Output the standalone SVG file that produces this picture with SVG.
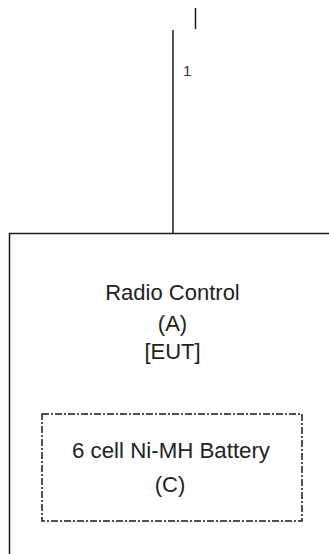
<svg xmlns="http://www.w3.org/2000/svg" width="329" height="554" viewBox="0 0 329 554">
<style>
.ln{stroke:#1a1a1a;stroke-width:1.5;fill:none}
.t{font-family:"Liberation Sans",Arial,sans-serif;font-size:22px;fill:#222;text-anchor:middle}
.dash{stroke:#1a1a1a;stroke-width:1.5;fill:none;stroke-dasharray:7 2 2 2}
</style>
<rect width="329" height="554" fill="#fff"/>
<g id="connectors">
<line class="ln" x1="195.5" y1="8" x2="195.5" y2="29"/>
<line class="ln" x1="173" y1="30" x2="173" y2="233.5"/>
<text x="183" y="76" style="font-family:'Liberation Sans',Arial,sans-serif;font-size:15px;fill:#333">1</text>
</g>
<g id="radio-control">
<rect class="ln" x="9.5" y="233.5" width="340" height="340"/>
<text class="t" x="172.5" y="300">Radio Control</text>
<text class="t" x="172.5" y="331">(A)</text>
<text class="t" x="172.5" y="359">[EUT]</text>
</g>
<g id="battery">
<rect class="dash" x="42" y="414" width="260" height="107"/>
<text class="t" x="171" y="458" textLength="198" lengthAdjust="spacingAndGlyphs">6 cell Ni-MH Battery</text>
<text class="t" x="170" y="492">(C)</text>
</g>
</svg>
